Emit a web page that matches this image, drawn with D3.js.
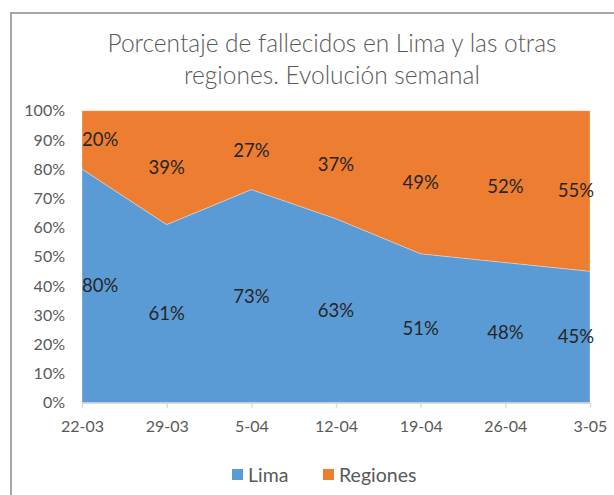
<!DOCTYPE html>
<html>
<head>
<meta charset="utf-8">
<script src="https://cdn.jsdelivr.net/npm/d3@7"></script>
<style>
  html, body { margin: 0; padding: 0; background: #fff; }
  svg { display: block; }
  text { font-family: Lato, "Open Sans", sans-serif; }
</style>
</head>
<body>
<svg id="chart" width="614" height="495"></svg>
<script>
const categories = ["22-03", "29-03", "5-04", "12-04", "19-04", "26-04", "3-05"];
const lima = [80, 61, 73, 63, 51, 48, 45];
const regiones = [20, 39, 27, 37, 49, 52, 55];
const seriesNames = ["Lima", "Regiones"];
const yTicks = [0, 10, 20, 30, 40, 50, 60, 70, 80, 90, 100];
const titleLines = ["Porcentaje de fallecidos en Lima y las otras", "regiones. Evolución semanal"];

(function () {
const colors = { Lima: "#5b9bd5", Regiones: "#ed7d31" };
const svg = d3.select("#chart");

// chart frame
svg.append("rect").attr("x", 11).attr("y", 13).attr("width", 700).attr("height", 600)
  .attr("fill", "#fff").attr("stroke", "#a6a6a6").attr("stroke-width", 2);

const pLeft = 82, pRight = 590, pTop = 110.7, pBottom = 402.7;

const x = d3.scalePoint().domain(categories).range([pLeft, pRight]);
const y = d3.scaleLinear().domain([0, 100]).range([pBottom, pTop]);

const rows = categories.map((c, i) => ({ cat: c, Lima: lima[i], Regiones: regiones[i] }));
const stacked = d3.stack().keys(seriesNames)
  .offset(d3.stackOffsetExpand)(rows);

const area = d3.area()
  .x(d => x(d.data.cat))
  .y0(d => y(d[0] * 100))
  .y1(d => y(d[1] * 100));

svg.append("g").selectAll("path").data(stacked).join("path")
  .attr("d", area)
  .attr("fill", d => colors[d.key])
  .attr("stroke", "#ffffff")
  .attr("stroke-width", 0.6)
  .attr("stroke-opacity", 0.5);

// Y axis (labels only)
const yAxis = d3.axisLeft(y).tickValues(yTicks).tickFormat(d => d + "%").tickSize(0).tickPadding(17);
const yg = svg.append("g").attr("transform", `translate(${pLeft},0)`).call(yAxis);
yg.select(".domain").remove();
yg.selectAll("text").attr("fill", "#595959").attr("font-size", 16)
  .style("font-family", "Lato, 'Open Sans', sans-serif");

// X axis
const xAxis = d3.axisBottom(x).tickSizeInner(5).tickSizeOuter(0).tickPadding(13);
const xg = svg.append("g").attr("transform", `translate(0,${pBottom})`).call(xAxis);
xg.select(".domain").attr("stroke", "#d9d9d9").attr("stroke-width", 1.5);
xg.selectAll(".tick line").attr("stroke", "#d9d9d9").attr("stroke-width", 1.5);
xg.selectAll("text").attr("fill", "#595959").attr("font-size", 16)
  .style("font-family", "Lato, 'Open Sans', sans-serif");

// Data labels
const labelG = svg.append("g");
stacked.forEach(s => {
  s.forEach(d => {
    const mid = (d[0] + d[1]) / 2 * 100;
    const val = s.key === "Lima" ? d.data.Lima : d.data.Regiones;
    const t = labelG.append("text")
      .attr("y", y(mid))
      .attr("dy", "0.35em")
      .attr("text-anchor", "middle")
      .attr("font-size", 18.5)
      .attr("fill", "#262626")
      .text(val + "%");
    const w = t.node().getComputedTextLength();
    let cx = x(d.data.cat);
    cx = Math.max(cx, pLeft + w / 2);
    cx = Math.min(cx, pRight - w / 2 + 4);
    t.attr("x", cx);
  });
});

// Title
svg.append("g").selectAll("text").data(titleLines).join("text")
  .attr("x", 332)
  .attr("y", (d, i) => 51.5 + i * 32.5)
  .attr("text-anchor", "middle")
  .attr("font-size", 24.5)
  .attr("font-weight", 300)
  .attr("fill", "#595959")
  .text(d => d);

// Legend
const legend = svg.append("g");
const legendItems = [
  { name: "Lima", sx: 232, tx: 248 },
  { name: "Regiones", sx: 323, tx: 339 }
];
legendItems.forEach(it => {
  legend.append("rect").attr("x", it.sx).attr("y", 469).attr("width", 11).attr("height", 11)
    .attr("fill", colors[it.name]);
  legend.append("text").attr("x", it.tx).attr("y", 481.5).attr("font-size", 19.5)
    .attr("fill", "#595959").text(it.name);
});
})();
</script>
</body>
</html>
